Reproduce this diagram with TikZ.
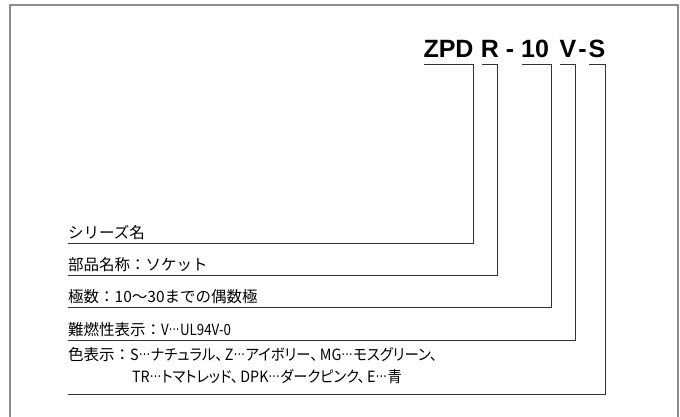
\documentclass[tikz,border=0pt]{standalone}
\usepackage{fontspec}
\newfontfamily\jp{Noto Sans CJK JP}
\newfontfamily\jpp{Noto Sans CJK JP}[RawFeature=+palt]
\newfontfamily\titlefont{Liberation Sans}
\newcommand\jdots{\kern0.3pt\scalebox{0.7}[1]{\raisebox{0.3em}{…}}\kern1.2pt}
\newcommand\jcomma{、\kern2.5pt}
\newcommand\narrowtxt[2]{\scalebox{#1}[1]{\jpp #2}}
\begin{document}
\begin{tikzpicture}[x=1pt,y=-1pt,
  lbl/.style={anchor=base west,inner sep=0pt,font=\jp\fontsize{15.5}{18}\selectfont,text=black},
  ttl/.style={anchor=base,inner sep=0pt,font=\titlefont\bfseries\fontsize{25}{30}\selectfont},
  conn/.style={draw=black!80,line width=1pt},
  frame/.style={draw=black!45,line width=2pt}]
\useasboundingbox (0,0) rectangle (680,416);
\draw[frame] (10,430) -- (10,5) -- (678,5) -- (678,430);
% title
\node[ttl] (zpd) at (448.5,57) {ZPD};
\node[ttl] (r) at (490,57) {R};
\node[ttl] (h1) at (510,57) {-};
\node[ttl] (ten) at (535,57) {10};
\node[ttl] (v) at (568,57) {V};
\node[ttl] (h2) at (582.5,57) {-};
\node[ttl] (s) at (597,57) {S};
% labels
\node[lbl] (l1) at (68,238.5) {シリーズ名};
\node[lbl] (l2) at (68,270.5) {部品名称：ソケット};
\node[lbl] (l3) at (68,302.5) {極数：10～30までの偶数極};
\node[lbl] (l4) at (68,335) {難燃性表示：\narrowtxt{0.86}{V\jdots UL94V-0}};
\node[lbl] (l5) at (68,360) {色表示：\narrowtxt{0.925}{S\jdots ナチュラル\jcomma Z\jdots アイボリー\jcomma MG\jdots モスグリーン\jcomma}};
\node[lbl] (l6) at (132,382) {\narrowtxt{0.92}{TR\jdots トマトレッド\jcomma DPK\jdots ダークピンク\jcomma E\jdots 青}};
% connector points
\coordinate (a1) at (424,64); \coordinate (b1) at (473,64); \coordinate (u1) at (68,243.5);
\coordinate (a2) at (482,64); \coordinate (b2) at (497.5,64); \coordinate (u2) at (68,275.5);
\coordinate (a3) at (522,64); \coordinate (b3) at (551,64); \coordinate (u3) at (68,307.5);
\coordinate (a4) at (560,64); \coordinate (b4) at (575,64); \coordinate (u4) at (68,340);
\coordinate (a5) at (589,64); \coordinate (b5) at (605,64); \coordinate (u5) at (68,394.5);
\draw[conn] (a1) -- (b1) |- (u1);
\draw[conn] (a2) -- (b2) |- (u2);
\draw[conn] (a3) -- (b3) |- (u3);
\draw[conn] (a4) -- (b4) |- (u4);
\draw[conn] (a5) -- (b5) |- (u5);
\end{tikzpicture}
\end{document}
